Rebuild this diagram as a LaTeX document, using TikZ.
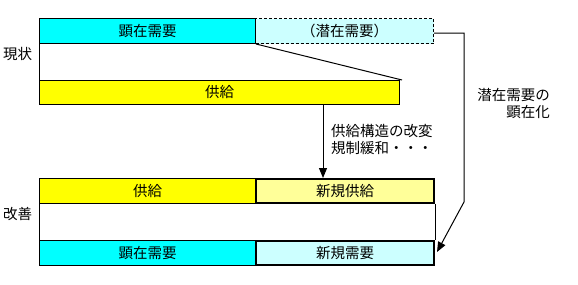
\documentclass[tikz,border=0pt]{standalone}
\usepackage{fontspec}
\setmainfont{Noto Sans CJK JP}
\usetikzlibrary{arrows.meta}
\definecolor{cyanA}{HTML}{00FFFF}
\definecolor{cyanB}{HTML}{CCFFFF}
\definecolor{yelA}{HTML}{FFFF00}
\definecolor{yelB}{HTML}{FFFF99}
\begin{document}
\begin{tikzpicture}[x=1pt,y=-1pt,
  every node/.style={inner sep=0pt, font=\fontsize{14.5}{17}\selectfont},
  bar/.style={draw, line width=1pt, minimum height=25pt, anchor=north west},
  thickbar/.style={bar, line width=2pt},
  conn/.style={line width=1pt},
  tip/.style={-{Triangle[length=10pt,width=8pt]}}]
\useasboundingbox (0,0) rectangle (578,284);
% top (current state)
\node[bar, fill=cyanA, minimum width=216pt] (kd1) at (39,18) {顕在需要};
\node[bar, dashed, dash pattern=on 3pt off 2pt, fill=cyanB, minimum width=178pt] (sz) at (255,18) {（潜在需要）};
\node[bar, fill=yelA, minimum width=360pt, minimum height=24pt] (sup1) at (39,80) {供給};
\coordinate (dg) at (402,80);
\draw[conn] (kd1.south west) -- (sup1.north west);
\draw[conn] (kd1.south east) -- (dg);
\node[anchor=west] (genjo) at (3,54) {現状};
% bottom (improved)
\node[bar, fill=yelA, minimum width=216pt] (sup2) at (39,178) {供給};
\node[thickbar, fill=yelB, minimum width=178pt, minimum height=24pt] (nsup) at (255,178) {新規供給};
\node[bar, fill=cyanA, minimum width=216pt] (kd2) at (39,240) {顕在需要};
\node[thickbar, fill=cyanB, minimum width=178pt, minimum height=24pt] (ndem) at (255,240) {新規需要};
\draw[conn] (sup2.south west) -- (kd2.north west);
\draw[conn] (nsup.south east) -- (ndem.north east);
\node[anchor=west] (kaizen) at (3,214) {改善};
% arrows
\coordinate (a1) at (323,104);
\draw[conn, tip] (a1) -- (a1 |- nsup.north);
\node[anchor=north west, align=left] (lab1) at (331,124) {供給構造の改変\\規制緩和・・・};
\coordinate (c1) at (464,33);
\coordinate (c2) at (464,202);
\coordinate (c3) at (437,252);
\draw[conn, tip] (sz.east |- c1) -- (c1) -- (c2) -- (c3);
\node[anchor=north east, align=right] (lab2) at (550,88) {潜在需要の\\顕在化};
\end{tikzpicture}
\end{document}
